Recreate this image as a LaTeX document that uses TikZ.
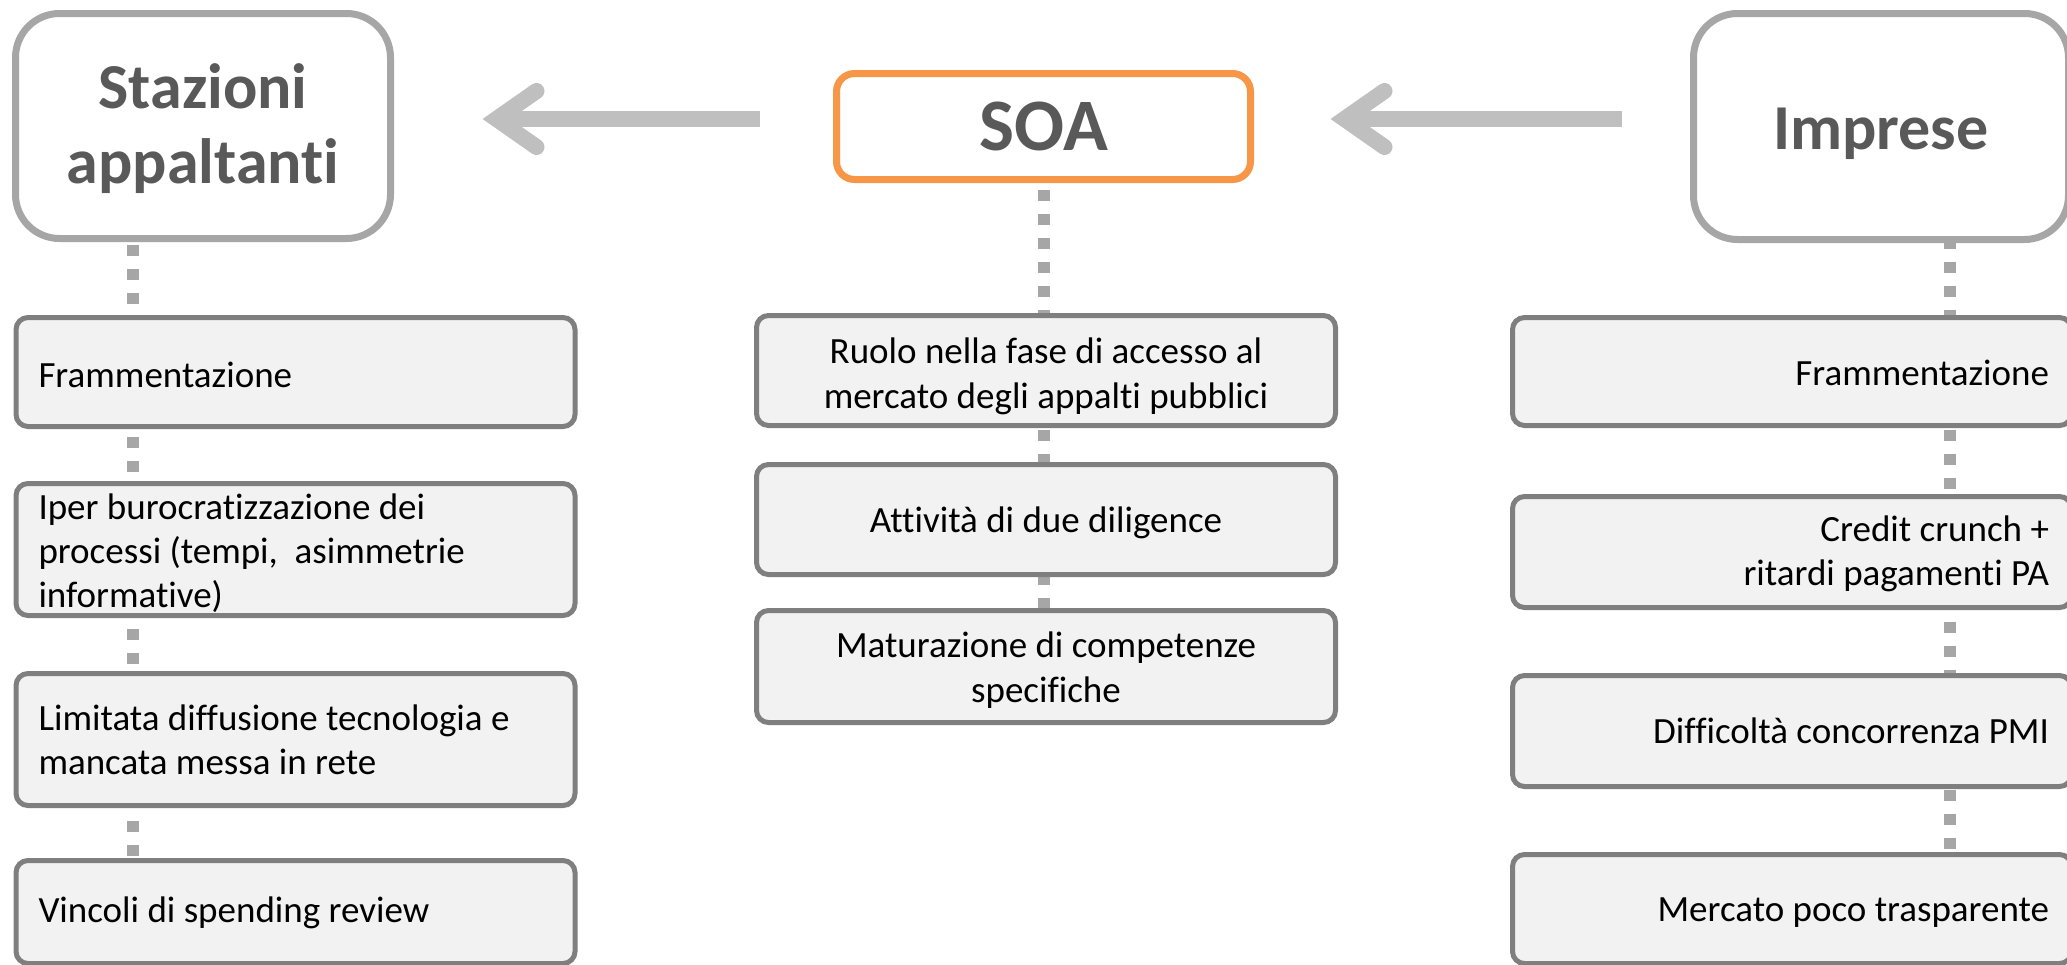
\documentclass[tikz,border=0pt]{standalone}
\usepackage{fontspec}
\setmainfont{Carlito}[Ligatures={NoCommon}]
\usetikzlibrary{calc,backgrounds}
\definecolor{hdrline}{HTML}{A6A6A6}
\definecolor{hdrtext}{HTML}{595959}
\definecolor{soaline}{HTML}{F79646}
\definecolor{boxline}{HTML}{7F7F7F}
\definecolor{boxfill}{HTML}{F2F2F2}
\definecolor{arrowgray}{HTML}{BFBFBF}
\definecolor{dashgray}{HTML}{A6A6A6}
\newcommand\lowered[2]{\raisebox{-#1}[\height][\depth]{#2}}
\newcommand\ltext[2][3pt]{\lowered{#1}{\parbox{514pt}{\raggedright #2}}}
\newcommand\rtext[2][3pt]{\lowered{#1}{\parbox{514pt}{\raggedleft #2}}}
\newcommand\ctext[2][3pt]{\lowered{#1}{\parbox{534pt}{\centering #2}}}
\tikzset{
  hdr/.style={draw=hdrline, fill=white, line width=7pt, rounded corners=44pt,
    outer sep=0pt, inner sep=0pt, text=hdrtext,
    font=\fontsize{64}{75}\selectfont\bfseries},
  soabox/.style={draw=soaline, fill=white, line width=7pt, rounded corners=18pt,
    outer sep=0pt, inner sep=0pt, text=hdrtext,
    font=\fontsize{74}{80}\selectfont\bfseries},
  item/.style={draw=boxline, fill=boxfill, line width=5pt, rounded corners=12pt,
    outer sep=0pt, inner xsep=22.5pt, inner ysep=0pt, text=black,
    font=\fontsize{37}{44}\selectfont},
  citem/.style={item, font=\fontsize{37}{45}\selectfont},
  dots/.style={draw=dashgray, line width=12pt, dash pattern=on 11pt off 13pt},
  shaft/.style={draw=arrowgray, line width=16pt},
  chev/.style={draw=arrowgray, line width=16pt, line cap=round, line join=miter}
}
\begin{document}
\begin{tikzpicture}[x=1pt,y=-1pt]
\useasboundingbox (0,0) rectangle (2067,964);
% headers
\node[hdr, minimum width=375pt, minimum height=225pt] (staz) at (203,126)
  {\lowered{5pt}{\begin{tabular}{@{}c@{}}Stazioni\\appaltanti\end{tabular}}};
\node[soabox, minimum width=414pt, minimum height=106pt] (soa) at (1043.5,126.5) {SOA};
\node[hdr, minimum width=375pt, minimum height=226pt] (impr) at (1881,126.5) {\lowered{7pt}{Imprese}};
% left column
\node[item, minimum height=109pt] (lb1) at (295.5,372) {\ltext[3pt]{Frammentazione}};
\node[item, minimum height=132pt] (lb2) at (295.5,549.5) {\ltext[4pt]{Iper burocratizzazione dei\\processi (tempi,\ \ asimmetrie\\informative)}};
\node[item, minimum height=132pt] (lb3) at (295.5,739.5) {\ltext[0pt]{Limitata diffusione tecnologia e\\mancata messa in rete}};
\node[item, minimum height=103pt] (lb4) at (295.5,912) {\ltext[1pt]{Vincoli di spending review}};
% center column
\node[citem, minimum height=110pt] (cb1) at (1046,370.5) {\ctext[6pt]{Ruolo nella fase di accesso al\\mercato degli appalti pubblici}};
\node[citem, minimum height=110pt] (cb2) at (1046,519.5) {\ctext[3pt]{Attività di due diligence}};
\node[citem, minimum height=112pt] (cb3) at (1046,666.5) {\ctext[4pt]{Maturazione di competenze\\specifiche}};
% right column
\node[item, minimum height=108pt] (rb1) at (1792,371.5) {\rtext[1pt]{Frammentazione}};
\node[item, minimum height=111pt] (rb2) at (1792,552) {\rtext[2pt]{Credit crunch +\\ritardi pagamenti PA}};
\node[item, minimum height=111pt] (rb3) at (1792,731) {\rtext[0pt]{Difficoltà concorrenza PMI}};
\node[item, minimum height=109pt] (rb4) at (1792,909) {\rtext[4pt]{Mercato poco trasparente}};
% dotted connectors behind the boxes
\coordinate (lx) at (133,0);
\coordinate (rx) at (1950,0);
\coordinate (cx) at (1043.5,0);
\begin{scope}[on background layer]
\draw[dots, dash phase=18pt] (staz.south -| lx) -- (lb4.north -| lx);
\draw[dots, dash phase=14pt] (soa.south -| cx) -- (cb3.north -| cx);
\draw[dots, dash phase=2pt] (impr.south -| rx) -- (rb4.north -| rx);
\end{scope}
% arrows
\coordinate (ay) at (0,119);
\coordinate (t1) at ($(staz.east |- ay)+(106,0)$);
\draw[shaft] ($(soa.west |- ay)+(-77,0)$) -- (t1);
\draw[chev] ($(t1)+(40,-28)$) -- (t1) -- ($(t1)+(40,28)$);
\coordinate (t2) at ($(soa.east |- ay)+(94,0)$);
\draw[shaft] ($(impr.west |- ay)+(-72,0)$) -- (t2);
\draw[chev] ($(t2)+(40,-28)$) -- (t2) -- ($(t2)+(40,28)$);
\end{tikzpicture}
\end{document}
